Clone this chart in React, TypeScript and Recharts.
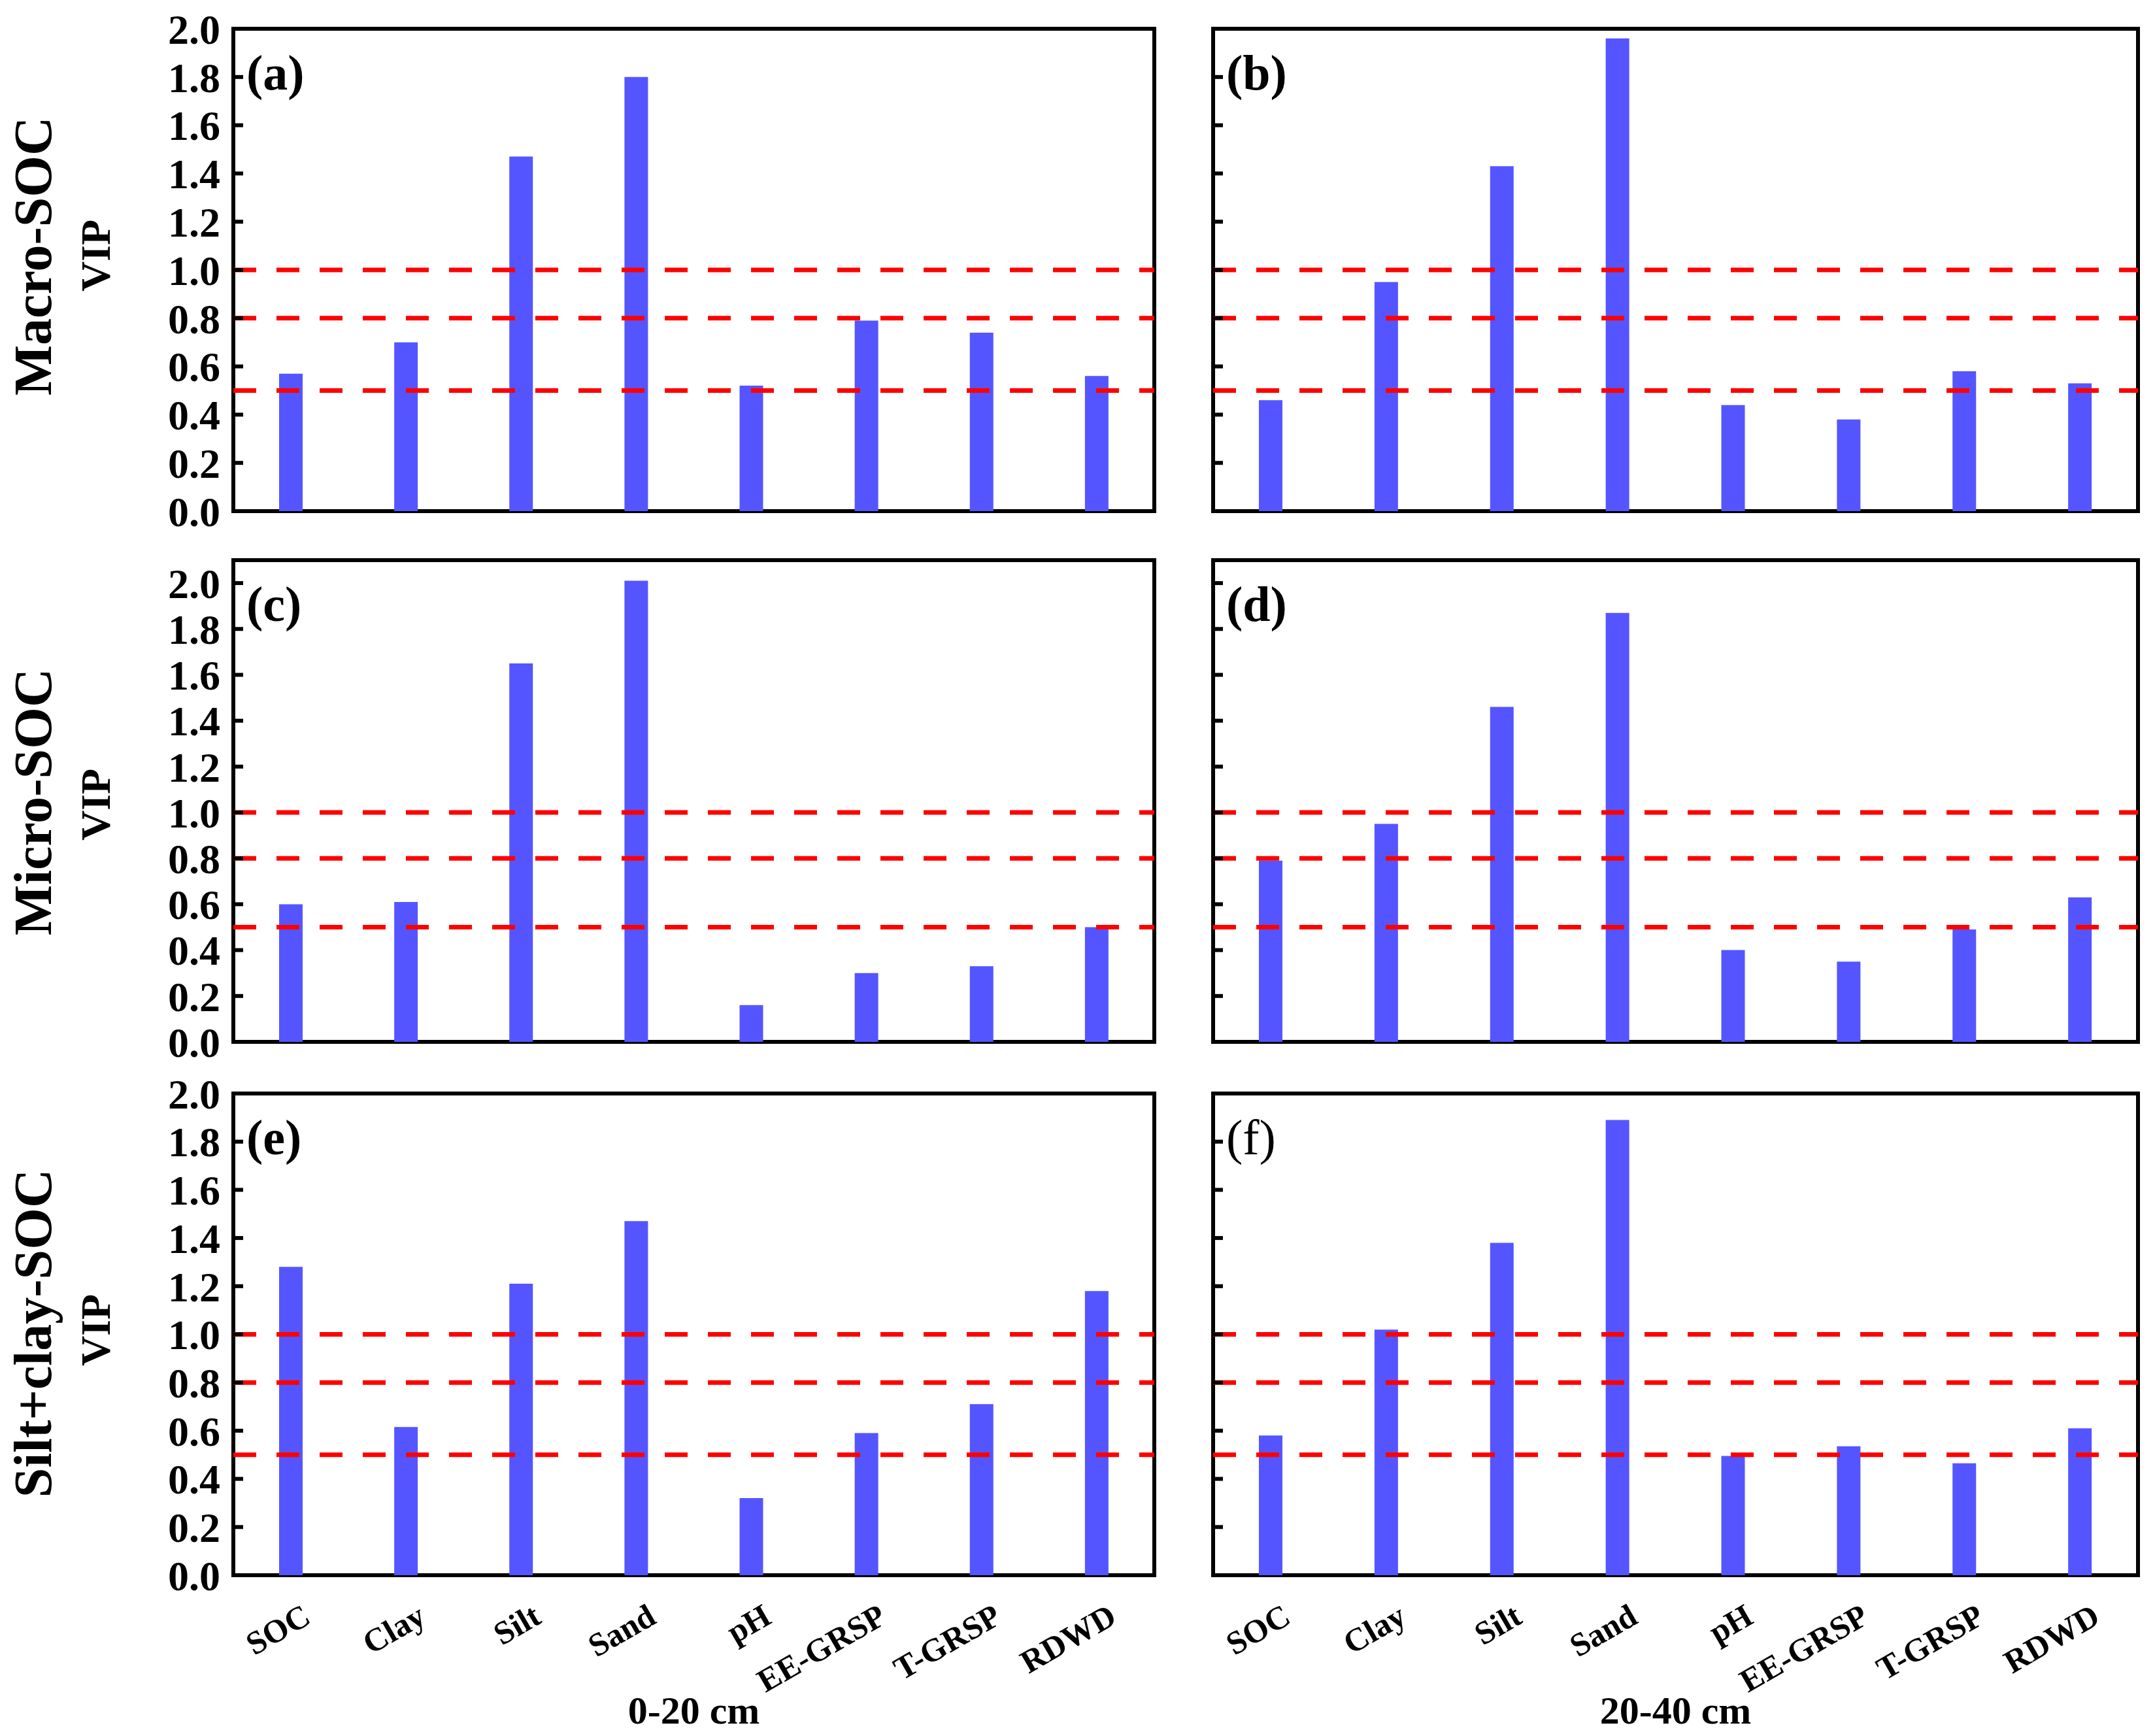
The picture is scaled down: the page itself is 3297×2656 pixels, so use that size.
import React from "react";
import {
  BarChart,
  Bar,
  XAxis,
  YAxis,
  ReferenceLine,
  ReferenceArea,
} from "recharts";

const CATEGORIES = ["SOC", "Clay", "Silt", "Sand", "pH", "EE-GRSP", "T-GRSP", "RDWD"];

// VIP values, one array per panel
const MACRO_0_20 = [0.57, 0.7, 1.47, 1.8, 0.52, 0.79, 0.74, 0.56];
const MACRO_20_40 = [0.46, 0.95, 1.43, 1.96, 0.44, 0.38, 0.58, 0.53];
const MICRO_0_20 = [0.6, 0.61, 1.65, 2.01, 0.16, 0.3, 0.33, 0.5];
const MICRO_20_40 = [0.79, 0.95, 1.46, 1.87, 0.4, 0.35, 0.49, 0.63];
const SILTCLAY_0_20 = [1.28, 0.615, 1.21, 1.47, 0.32, 0.59, 0.71, 1.18];
const SILTCLAY_20_40 = [0.58, 1.02, 1.38, 1.89, 0.495, 0.535, 0.465, 0.61];

const THRESHOLDS = [0.5, 0.8, 1.0];
const VIP_TICKS = [0, 0.2, 0.4, 0.6, 0.8, 1.0, 1.2, 1.4, 1.6, 1.8, 2.0];
const ROW_MAX = [2.0, 2.1, 2.0];
const ROW_TITLES = ["Macro-SOC", "Micro-SOC", "Silt+clay-SOC"];
const DEPTHS = ["0-20 cm", "20-40 cm"];
const LETTERS = [
  ["(a)", "(b)"],
  ["(c)", "(d)"],
  ["(e)", "(f)"],
];

const PANELS = [
  [MACRO_0_20, MACRO_20_40],
  [MICRO_0_20, MICRO_20_40],
  [SILTCLAY_0_20, SILTCLAY_20_40],
];

// layout (page pixels)
const COL_LEFT = [357, 1856];
const COL_WIDTH = [1409, 1415];
const ROW_TOP = [44, 857, 1673];
const ROW_HEIGHT = [738, 737, 737];
const PAD_TOP = 40;
const PAD_RIGHT = 20;
const ROW_TITLE_Y = [392, 1227, 2040];
const VIP_Y = [391, 1231, 2035];

const FONT = "'Liberation Serif', 'Times New Roman', serif";
const BAR_COLOR = "#5555ff";

const XTick = (props: any) => {
  const { x, y, payload } = props;
  return (
    <text
      x={0}
      y={0}
      transform={`translate(${x + 33},${y + 72}) rotate(-30)`}
      textAnchor="end"
      fontFamily={FONT}
      fontWeight="bold"
      fontSize={50}
      fill="#000"
    >
      {payload.value}
    </text>
  );
};

const NoTick = () => <g />;

function Panel({ row, col }: { row: number; col: number }) {
  const values = PANELS[row][col];
  const data = CATEGORIES.map((name, i) => ({ name, value: values[i] }));
  const yMax = ROW_MAX[row];
  const plotW = COL_WIDTH[col];
  const plotH = ROW_HEIGHT[row];
  const yW = col === 0 ? 300 : 60;
  const xH = row === 2 ? 220 : 45;
  const width = yW + plotW + PAD_RIGHT;
  const height = PAD_TOP + plotH + xH;

  return (
    <div
      style={{
        position: "absolute",
        left: COL_LEFT[col] - yW,
        top: ROW_TOP[row] - PAD_TOP,
      }}
    >
      <BarChart
        width={width}
        height={height}
        data={data}
        margin={{ top: PAD_TOP, right: PAD_RIGHT, left: 0, bottom: 0 }}
      >
        <XAxis
          dataKey="name"
          height={xH}
          axisLine={false}
          tickLine={false}
          tickSize={0}
          tickMargin={0}
          interval={0}
          tick={row === 2 ? <XTick /> : false}
        />
        {/* tick labels (outside) */}
        <YAxis
          yAxisId="v"
          type="number"
          domain={[0, yMax]}
          ticks={VIP_TICKS}
          interval={0}
          width={yW}
          allowDataOverflow
          axisLine={false}
          tickLine={false}
          tickSize={0}
          tickMargin={20}
          tick={
            col === 0
              ? { fill: "#000", fontSize: 64, fontWeight: "bold", fontFamily: FONT }
              : NoTick
          }
          tickFormatter={(v: number) => v.toFixed(1)}
        />
        {/* inward tick marks */}
        <YAxis
          yAxisId="marks"
          type="number"
          domain={[0, yMax]}
          ticks={VIP_TICKS}
          interval={0}
          width={20}
          mirror
          allowDataOverflow
          axisLine={false}
          stroke="#000"
          tickSize={15}
          tickLine={{ stroke: "#000", strokeWidth: 6 }}
          tick={NoTick}
        />
        <ReferenceArea
          yAxisId="v"
          y1={0}
          y2={yMax}
          fill="none"
          fillOpacity={0}
          stroke="#000"
          strokeWidth={6}
        />
        <Bar
          yAxisId="v"
          dataKey="value"
          fill={BAR_COLOR}
          barSize={36}
          isAnimationActive={false}
        />
        {THRESHOLDS.map((t) => (
          <ReferenceLine
            key={t}
            yAxisId="v"
            y={t}
            stroke="#ff0000"
            strokeWidth={7}
            strokeDasharray="35 31"
          />
        ))}
      </BarChart>
    </div>
  );
}

export default function App() {
  return (
    <div
      style={{
        position: "absolute",
        left: 0,
        top: 0,
        width: 3297,
        height: 2656,
        background: "#fff",
        overflow: "hidden",
      }}
    >
      {[0, 1, 2].map((r) =>
        [0, 1].map((c) => <Panel key={`${r}-${c}`} row={r} col={c} />)
      )}
      <svg
        width={3297}
        height={2656}
        style={{ position: "absolute", left: 0, top: 0, pointerEvents: "none" }}
        fontFamily={FONT}
        fontWeight="bold"
      >
        {ROW_TITLES.map((t, r) => (
          <g key={t}>
            <text
              transform={`translate(78,${ROW_TITLE_Y[r]}) rotate(-90)`}
              textAnchor="middle"
              fontSize={82}
            >
              {t}
            </text>
            <text
              transform={`translate(168,${VIP_Y[r]}) rotate(-90)`}
              textAnchor="middle"
              fontSize={64}
            >
              VIP
            </text>
          </g>
        ))}
        {LETTERS.map((pair, r) =>
          pair.map((l, c) => (
            <text
              key={l}
              x={COL_LEFT[c] + 20}
              y={ROW_TOP[r] + 93}
              fontSize={76}
              fontWeight={l === "(f)" ? "normal" : "bold"}
            >
              {l}
            </text>
          ))
        )}
        {DEPTHS.map((d, c) => (
          <text
            key={d}
            x={COL_LEFT[c] + COL_WIDTH[c] / 2}
            y={2637}
            textAnchor="middle"
            fontSize={60}
          >
            {d}
          </text>
        ))}
      </svg>
    </div>
  );
}
